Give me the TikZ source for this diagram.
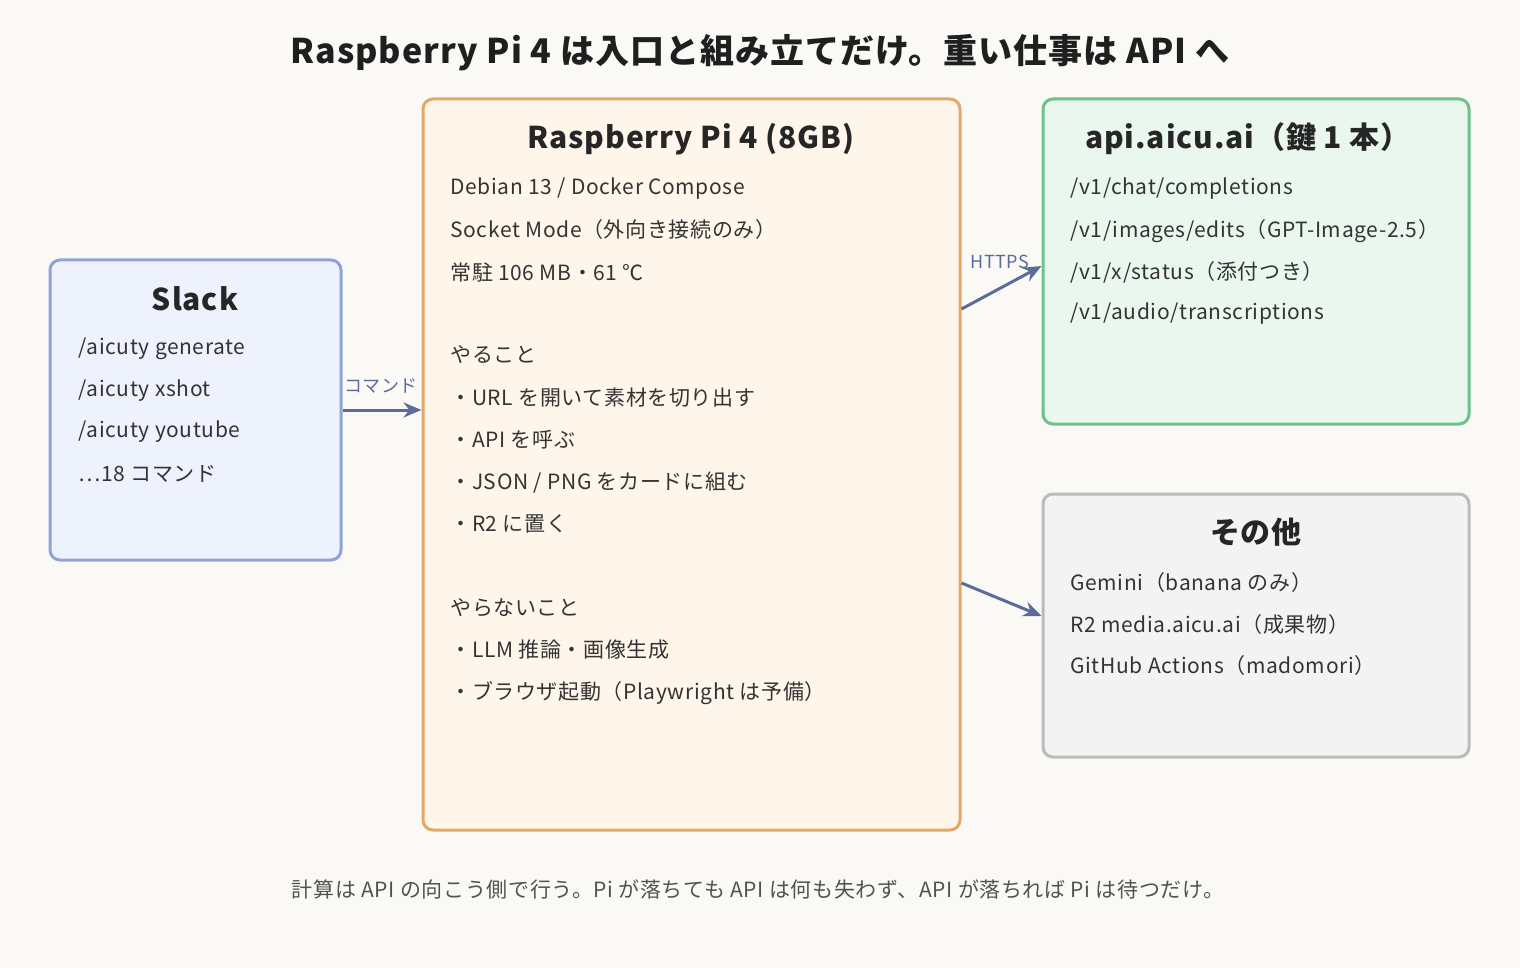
\documentclass[tikz,border=0pt]{standalone}
\usepackage{fontspec}
\setmainfont{Noto Sans CJK JP}[LetterSpace=3]
\usetikzlibrary{arrows.meta}
\definecolor{bg}{HTML}{FAF9F5}
\definecolor{arr}{HTML}{5B6B9A}
\definecolor{txt}{HTML}{333333}
\tikzset{
 box/.style={draw, line width=1.5pt, rounded corners=5pt},
 ttl/.style={font=\bfseries\fontsize{15}{18}\selectfont, text=black!85, anchor=center},
 ln/.style={font=\fontsize{10.5}{12}\selectfont, text=txt, anchor=west, inner sep=0pt},
 con/.style={draw=arr, line width=1.5pt, -{Stealth[length=9pt,width=7.5pt]}},
 lab/.style={font=\fontsize{9}{11}\selectfont, text=arr, inner sep=0pt}
}
\begin{document}
\begin{tikzpicture}[x=0.5pt,y=-0.5pt]
\fill[bg] (0,0) rectangle (1520,968);
\useasboundingbox (0,0) rectangle (1520,968);
\node[font=\bfseries\fontsize{17}{20}\selectfont, text=black!88] (title) at (760,53) {Raspberry Pi 4 は入口と組み立てだけ。重い仕事は API へ};
% boxes
\node[box, draw={rgb,255:red,143;green,163;blue,216}, fill={rgb,255:red,238;green,242;blue,253}, minimum width=145.5pt, minimum height=150pt, inner sep=0pt] (slack) at (195.5,410) {};
\node[box, draw={rgb,255:red,227;green,168;blue,101}, fill={rgb,255:red,255;green,246;blue,235}, minimum width=268.5pt, minimum height=365.5pt, inner sep=0pt] (pi) at (691.5,464.5) {};
\node[box, draw={rgb,255:red,109;green,194;blue,138}, fill={rgb,255:red,234;green,247;blue,238}, minimum width=213pt, minimum height=162.5pt, inner sep=0pt] (api) at (1256,261.5) {};
\node[box, draw={rgb,255:red,187;green,187;blue,187}, fill={rgb,255:red,243;green,243;blue,243}, minimum width=213pt, minimum height=131.5pt, inner sep=0pt] (oth) at (1256,625.5) {};
% slack text
\node[ttl] (st) at (195,299) {Slack};
\node[ln] (s1) at (78,349) {/aicuty generate};
\node[ln] (s2) at (78,391) {/aicuty xshot};
\node[ln] (s3) at (78,432) {/aicuty youtube};
\node[ln] (s4) at (78,474) {…18 コマンド};
% pi text
\node[ttl] (pt) at (691,139) {Raspberry Pi 4 (8GB)};
\node[ln] (p1) at (450,189) {Debian 13 / Docker Compose};
\node[ln] (p2) at (450,230) {Socket Mode（外向き接続のみ）};
\node[ln] (p3) at (450,272) {常駐 106 MB・61 ℃};
\node[ln] (p4) at (450,355) {やること};
\node[ln] (p5) at (450,398) {・URL を開いて素材を切り出す};
\node[ln] (p6) at (450,440) {・API を呼ぶ};
\node[ln] (p7) at (450,483) {・JSON / PNG をカードに組む};
\node[ln] (p8) at (450,524) {・R2 に置く};
\node[ln] (p9) at (450,608) {やらないこと};
\node[ln] (p10) at (450,650) {・LLM 推論・画像生成};
\node[ln] (p11) at (450,693) {・ブラウザ起動（Playwright は予備）};
% api text
\node[ttl] (at) at (1248,139) {api.aicu.ai（鍵 1 本）};
\node[ln] (a1) at (1070,189) {/v1/chat/completions};
\node[ln] (a2) at (1070,231) {/v1/images/edits（GPT-Image-2.5）};
\node[ln] (a3) at (1070,272) {/v1/x/status（添付つき）};
\node[ln] (a4) at (1070,314) {/v1/audio/transcriptions};
% other text
\node[ttl] (ot) at (1256,532) {その他};
\node[ln] (o1) at (1070,583) {Gemini（banana のみ）};
\node[ln] (o2) at (1070,625) {R2 media.aicu.ai（成果物）};
\node[ln] (o3) at (1070,666) {GitHub Actions（madomori）};
% connectors
\draw[con] (slack.east |- 0,410) -- (pi.west |- 0,410);
\node[lab] (l1) at (381,386) {コマンド};
\draw[con] (pi.east |- 0,309) -- (api.west |- 0,266);
\node[lab] (l2) at (1000,262) {HTTPS};
\draw[con] (pi.east |- 0,583) -- (oth.west |- 0,616);
% footer
\node[font=\fontsize{10.5}{12}\selectfont, text=txt!85] (foot) at (758,889) {計算は API の向こう側で行う。Pi が落ちても API は何も失わず、API が落ちれば Pi は待つだけ。};
\end{tikzpicture}
\end{document}
